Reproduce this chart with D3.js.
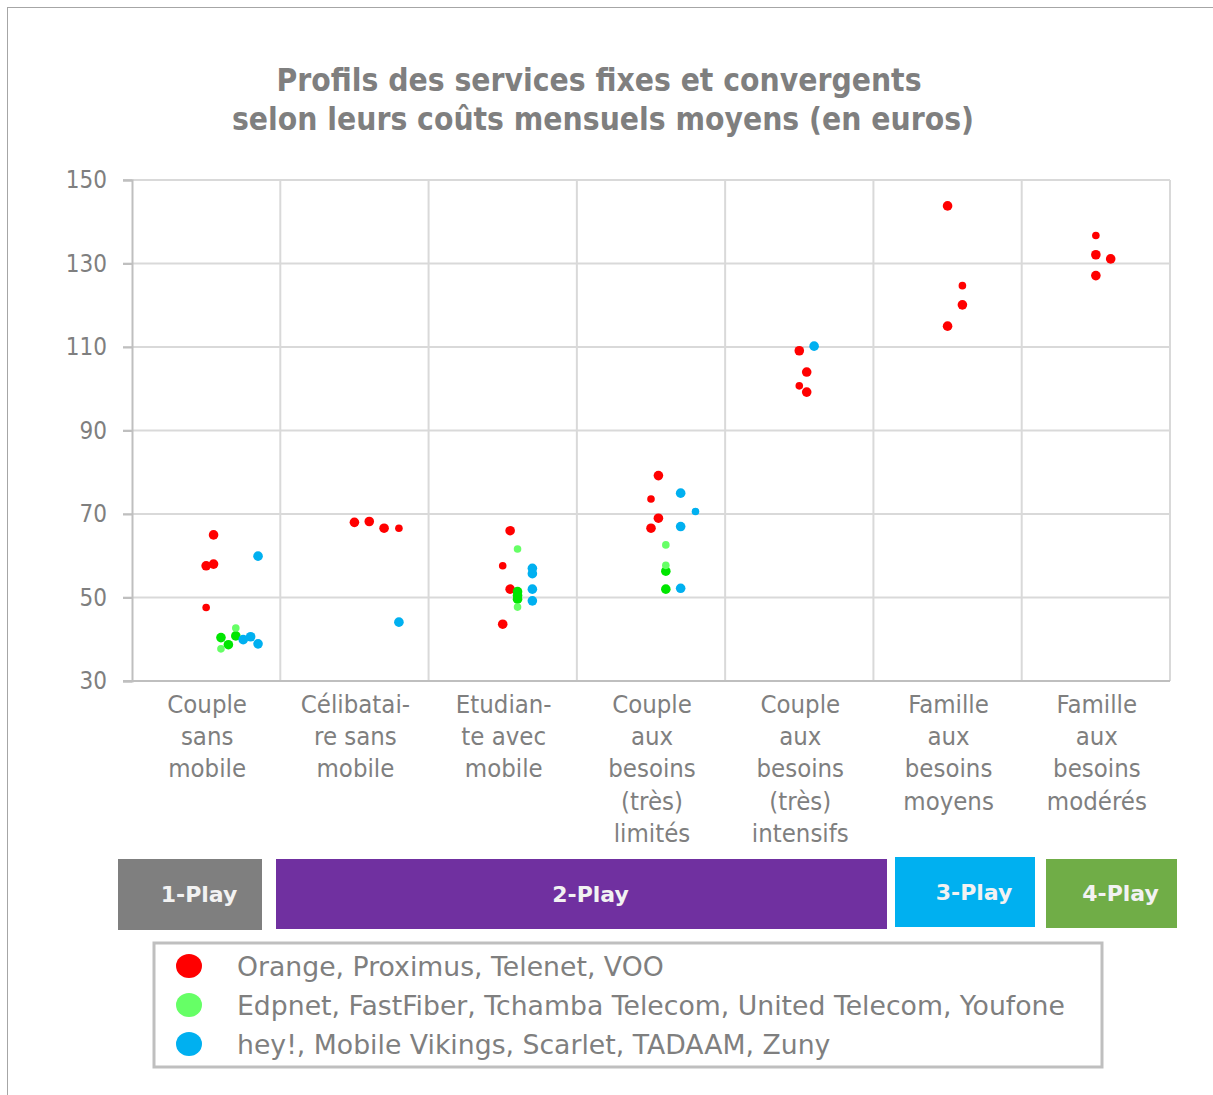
<!DOCTYPE html>
<html>
<head>
<meta charset="utf-8">
<script src="https://cdn.jsdelivr.net/npm/d3@7"></script>
<style>
  body { margin: 0; background: #fff; }
  svg text { font-family: "DejaVu Sans Condensed", "DejaVu Sans", sans-serif; font-stretch: condensed; }
</style>
</head>
<body>
<svg id="chart" width="1213" height="1095"></svg>
<script>
// categories (x axis), one column each
var categories = [
  ["Couple", "sans", "mobile"],
  ["Célibatai-", "re sans", "mobile"],
  ["Etudian-", "te avec", "mobile"],
  ["Couple", "aux", "besoins", "(très)", "limités"],
  ["Couple", "aux", "besoins", "(très)", "intensifs"],
  ["Famille", "aux", "besoins", "moyens"],
  ["Famille", "aux", "besoins", "modérés"]
];

var yTicks = [30, 50, 70, 90, 110, 130, 150];

// points: [x (column index + offset), monthly cost in euros]
var orangeBig = [[0.55, 65], [0.5, 57.6], [0.55, 58], [1.5, 68], [1.6, 68.2], [1.7, 66.6],
  [2.55, 66], [2.55, 52], [2.5, 43.6], [3.55, 79.2], [3.55, 69], [3.5, 66.6],
  [4.5, 109.1], [4.55, 104], [4.55, 99.2], [5.5, 143.8], [5.6, 120.1], [5.5, 115],
  [6.5, 132.1], [6.6, 131.1], [6.5, 127.1]];
var orangeSmall = [[0.5, 47.6], [1.8, 66.6], [2.5, 57.6], [3.5, 73.6], [4.5, 100.7], [5.6, 124.7], [6.5, 136.7]];
var altBig = [[0.6, 40.4], [0.7, 40.8], [0.65, 38.7], [2.6, 51.4], [2.6, 50.5], [2.6, 49.6], [3.6, 56.3], [3.6, 52]];
var altSmall = [[0.7, 42.7], [0.6, 37.7], [2.6, 61.6], [2.6, 47.7], [3.6, 62.6], [3.6, 57.7]];
var lowBig = [[0.85, 59.9], [0.75, 39.9], [0.8, 40.6], [0.85, 38.9], [1.8, 44.1],
  [2.7, 57], [2.7, 55.7], [2.7, 52], [2.7, 49.2], [3.7, 75], [3.7, 67], [3.7, 52.2], [4.6, 110.2]];
var lowSmall = [[3.8, 70.6]];

var plays = [
  {name: "1-Play", from: 0, to: 1},
  {name: "2-Play", from: 1, to: 5},
  {name: "3-Play", from: 5, to: 6},
  {name: "4-Play", from: 6, to: 7}
];
var legendLabels = ["Orange, Proximus, Telenet, VOO",
  "Edpnet, FastFiber, Tchamba Telecom, United Telecom, Youfone",
  "hey!, Mobile Vikings, Scarlet, TADAAM, Zuny"];

var svg = d3.select("#chart");
var grey = "#7f7f7f";
var gridCol = "#d9d9d9";

// outer frame
svg.append("rect").attr("x", 7.5).attr("y", 7.5).attr("width", 1230).attr("height", 1120)
  .attr("fill", "none").attr("stroke", "#a6a6a6").attr("stroke-width", 1);

// title
svg.append("text").attr("x", 599).attr("y", 91).attr("text-anchor", "middle")
  .attr("fill", grey).style("font-size", "31.5px").style("font-weight", "bold")
  .text("Profils des services fixes et convergents");
svg.append("text").attr("x", 603).attr("y", 130).attr("text-anchor", "middle")
  .attr("fill", grey).style("font-size", "31.5px").style("font-weight", "bold")
  .text("selon leurs coûts mensuels moyens (en euros)");

var x = d3.scaleLinear().domain([0, 7]).range([132, 1170]);
var y = d3.scaleLinear().domain([30, 150]).range([681, 180]);

// horizontal grid
svg.append("g").selectAll("line").data(yTicks).enter().append("line")
  .attr("x1", 123).attr("x2", 1170)
  .attr("y1", function(d) { return y(d); }).attr("y2", function(d) { return y(d); })
  .attr("stroke", gridCol).attr("stroke-width", 2);

// vertical separators
svg.append("g").selectAll("line").data(d3.range(1, 8)).enter().append("line")
  .attr("x1", function(d) { return x(d); }).attr("x2", function(d) { return x(d); })
  .attr("y1", 180).attr("y2", 681)
  .attr("stroke", gridCol).attr("stroke-width", 2);

// y axis
var yAxis = svg.append("g").attr("transform", "translate(132,0)")
  .call(d3.axisLeft(y).tickValues(yTicks).tickSize(9).tickPadding(16));
yAxis.select(".domain").attr("stroke", "#bfbfbf").attr("stroke-width", 2);
yAxis.selectAll(".tick line").attr("stroke", "#bfbfbf").attr("stroke-width", 2);
yAxis.selectAll("text").attr("fill", grey).style("font-size", "24px")
  .style("font-family", "'DejaVu Sans Condensed', 'DejaVu Sans', sans-serif");

svg.append("line").attr("x1", 123).attr("x2", 1170).attr("y1", y(30)).attr("y2", y(30))
  .attr("stroke", "#bfbfbf").attr("stroke-width", 2);

// category labels
var cat = svg.append("g").selectAll("text").data(categories).enter().append("text")
  .attr("text-anchor", "middle").attr("fill", grey).style("font-size", "25.5px")
  .attr("transform", function(d, i) { return "translate(" + (x(i + 0.5) + 1) + ",713)"; });
cat.selectAll("tspan").data(function(d) { return d; }).enter().append("tspan")
  .attr("x", 0).attr("y", function(d, i) { return i * 32.2; }).text(function(d) { return d; });

// points
var series = [
  {pts: orangeBig, color: "#ff0000", r: 4.8},
  {pts: orangeSmall, color: "#ff0000", r: 3.8},
  {pts: altBig, color: "#00e600", r: 4.8},
  {pts: altSmall, color: "#66ff66", r: 3.8},
  {pts: lowBig, color: "#00b0f0", r: 4.8},
  {pts: lowSmall, color: "#00b0f0", r: 3.8}
];
series.forEach(function(s) {
  svg.append("g").selectAll("circle").data(s.pts).enter().append("circle")
    .attr("cx", function(d) { return x(d[0]); })
    .attr("cy", function(d) { return y(d[1]); })
    .attr("r", s.r).attr("fill", s.color);
});

// play bands
var playColors = {"1-Play": "#7f7f7f", "2-Play": "#7030a0", "3-Play": "#00b0f0", "4-Play": "#70ad47"};
var playBox = {
  "1-Play": [118, 262, 859, 930],
  "2-Play": [276, 887, 859, 929],
  "3-Play": [895, 1035, 857, 927],
  "4-Play": [1046, 1177, 859, 928]
};
var pg = svg.append("g").selectAll("g").data(plays).enter().append("g");
pg.append("rect")
  .attr("x", function(d) { return playBox[d.name][0]; })
  .attr("y", function(d) { return playBox[d.name][2]; })
  .attr("width", function(d) { return playBox[d.name][1] - playBox[d.name][0]; })
  .attr("height", function(d) { return playBox[d.name][3] - playBox[d.name][2]; })
  .attr("fill", function(d) { return playColors[d.name]; });
pg.append("text")
  .attr("x", function(d) { return (playBox[d.name][0] + playBox[d.name][1]) / 2 + 9; })
  .attr("y", function(d) { return (playBox[d.name][2] + playBox[d.name][3]) / 2; })
  .attr("dy", "0.36em").attr("text-anchor", "middle")
  .attr("fill", "#f2f2f2").style("font-size", "22px").style("font-weight", "bold")
  .style("font-family", "'DejaVu Sans', sans-serif").style("font-stretch", "normal")
  .text(function(d) { return d.name; });

// legend
svg.append("rect").attr("x", 154).attr("y", 943).attr("width", 948).attr("height", 124)
  .attr("fill", "#fff").attr("stroke", "#bfbfbf").attr("stroke-width", 3);
var legendColors = ["#ff0000", "#66ff66", "#00b0f0"];
var lg = svg.append("g").selectAll("g").data(legendLabels).enter().append("g")
  .attr("transform", function(d, i) { return "translate(0," + (966 + i * 39) + ")"; });
lg.append("ellipse").attr("cx", 189).attr("cy", 0).attr("rx", 13).attr("ry", 12)
  .attr("fill", function(d, i) { return legendColors[i]; });
lg.append("text").attr("x", 237).attr("y", 0).attr("dy", "0.36em")
  .attr("fill", grey).style("font-size", "26.7px")
  .style("font-family", "'DejaVu Sans', sans-serif").style("font-stretch", "normal")
  .text(function(d) { return d; });
</script>
</body>
</html>
